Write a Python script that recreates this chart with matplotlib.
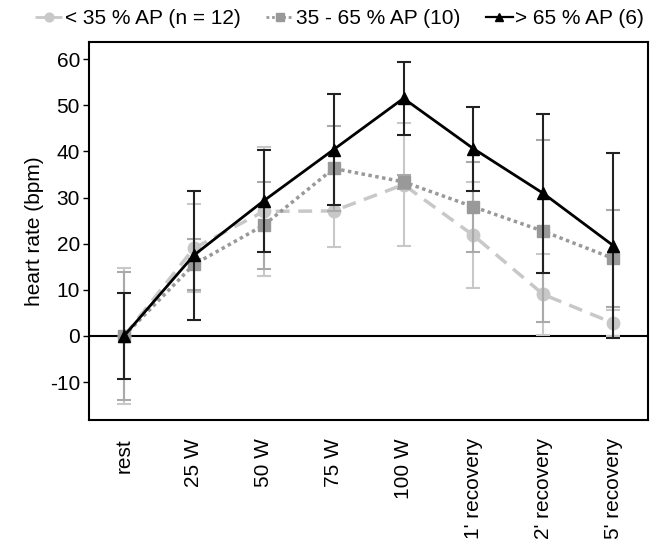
import numpy as np
import matplotlib.pyplot as plt
from matplotlib.lines import Line2D

plt.rcParams['font.family'] = ['Liberation Sans', 'DejaVu Sans']
plt.rcParams['axes.unicode_minus'] = False

# stages on the x axis
stages = ['rest', '25 W', '50 W', '75 W', '100 W',
          "1' recovery", "2' recovery", "5' recovery"]

# < 35 % AP (n = 12)
low_mean = [0, 19.0, 27.0, 27.1, 32.8, 21.8, 9.0, 2.8]
low_err = [14.8, 9.5, 14.0, 7.9, 13.3, 11.5, 8.8, 2.8]

# 35 - 65 % AP (10)
mid_mean = [0, 15.5, 24.0, 36.3, 33.4, 28.0, 22.7, 16.8]
mid_err = [13.8, 5.5, 9.4, 9.2, 1.5, 9.7, 19.7, 10.5]

# > 65 % AP (6)
high_mean = [0, 17.5, 29.3, 40.4, 51.5, 40.6, 30.9, 19.6]
high_err = [9.4, 14.0, 11.1, 12.0, 7.9, 9.1, 17.3, 20.0]

x = np.arange(len(stages))

fig = plt.figure(figsize=(6.57, 5.46), dpi=100)
ax = fig.add_axes([0.1355, 0.2308, 0.851, 0.6922])

ax.axhline(0, color='black', lw=1.5, zorder=1)

styles = [
    (low_mean, low_err, '#c8c8c8', '#c8c8c8', (0, (4, 2.5)), 2.5, 'o', 9, '< 35 % AP (n = 12)'),
    (mid_mean, mid_err, '#999999', '#aaaaaa', (0, (1, 1)), 2.5, 's', 8, '35 - 65 % AP (10)'),
    (high_mean, high_err, 'black', '#222222', '-', 2, '^', 9, '> 65 % AP (6)'),
]
handles = []
for i, (m, e, c, ec, ls, lw, mk, ms, lab) in enumerate(styles):
    ax.errorbar(x, m, yerr=e, color=c, ecolor=ec, ls=ls, lw=lw, marker=mk, ms=ms,
                capsize=5, elinewidth=1.5, capthick=1.5, zorder=3 + i)
    handles.append(Line2D([], [], color=c, ls=ls, lw=lw * 0.8, marker=mk, ms=ms * 0.7,
                          label=lab))

ax.set_xlim(-0.5, 7.5)
ax.set_ylim(-18.2, 63.7)
ax.set_yticks([-10, 0, 10, 20, 30, 40, 50, 60])
ax.set_xticks(x)
ax.set_xticklabels(stages, rotation=90, fontsize=15)
ax.tick_params(axis='x', length=0, pad=13)
ax.tick_params(axis='y', labelsize=15, length=4.5, width=1, pad=2)
ax.set_ylabel('heart rate (bpm)', fontsize=15, labelpad=4)

for s in ax.spines.values():
    s.set_linewidth(1.5)

fig.legend(handles=handles, loc='center', bbox_to_anchor=(0.517, 0.966), ncol=3,
           frameon=False, fontsize=15, handlelength=1.3, handletextpad=0.1,
           columnspacing=1.25)

fig.savefig('out.png', dpi=100)
